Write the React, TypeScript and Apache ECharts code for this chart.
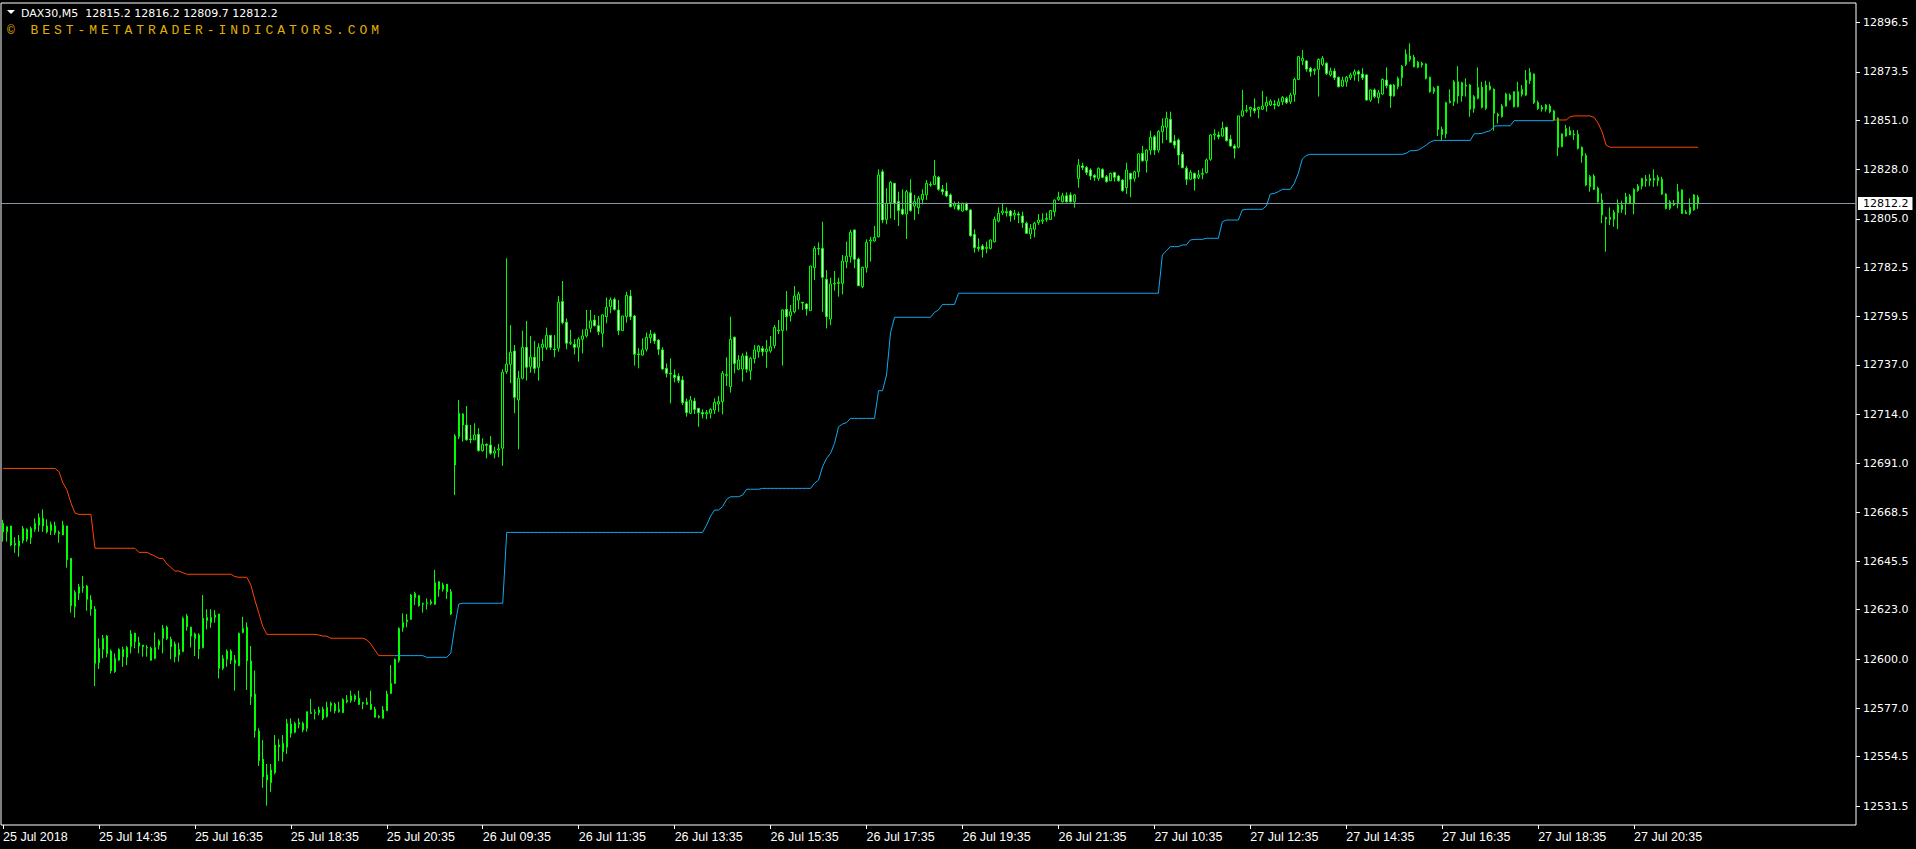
import React, { useEffect, useRef } from 'react';
import * as echarts from 'echarts';

// ---- Axis labels ----
const tickLabels = [
  '25 Jul 2018', '25 Jul 14:35', '25 Jul 16:35', '25 Jul 18:35', '25 Jul 20:35',
  '26 Jul 09:35', '26 Jul 11:35', '26 Jul 13:35', '26 Jul 15:35', '26 Jul 17:35',
  '26 Jul 19:35', '26 Jul 21:35', '27 Jul 10:35', '27 Jul 12:35', '27 Jul 14:35',
  '27 Jul 16:35', '27 Jul 18:35', '27 Jul 20:35',
];
const barsPerLabel = 24;
const priceLevels = [
  12531.5, 12554.5, 12577.0, 12600.0, 12623.0, 12645.5, 12668.5, 12691.0, 12714.0,
  12737.0, 12759.5, 12782.5, 12805.0, 12828.0, 12851.0, 12873.5, 12896.5,
];
const priceMin = 12522.7;
const priceMax = 12905.6;
const lastPrice = 12812.2;
const headerText = 'DAX30,M5  12815.2 12816.2 12809.7 12812.2';
const watermarkText = '\u00A9 BEST-METATRADER-INDICATORS.COM';

// ---- OHLC (M5 bars) ----
const opens = [
  12663.2, 12659.3, 12662.0, 12653.1, 12652.6, 12655.1, 12660.4, 12656.5, 12660.4, 12662.4,
  12665.5, 12662.0, 12659.8, 12662.0, 12658.9, 12657.8, 12662.0, 12646.9, 12624.4, 12630.6,
  12633.7, 12634.0, 12627.5, 12623.2, 12598.3, 12604.5, 12610.7, 12603.7, 12594.1, 12599.5,
  12604.5, 12600.8, 12605.8, 12612.0, 12607.6, 12606.5, 12605.4, 12605.0, 12600.3, 12606.5,
  12609.6, 12614.8, 12609.2, 12607.0, 12601.9, 12603.4, 12620.0, 12614.8, 12609.5, 12611.2,
  12605.3, 12617.9, 12619.4, 12619.4, 12621.0, 12595.7, 12599.9, 12603.7, 12599.5, 12596.9,
  12612.3, 12614.8, 12599.1, 12583.7, 12566.5, 12553.3, 12546.0, 12542.4, 12547.1, 12560.0,
  12560.7, 12558.9, 12569.7, 12565.9, 12569.7, 12570.0, 12567.7, 12575.0, 12574.7, 12575.0,
  12576.6, 12573.2, 12578.3, 12578.9, 12575.5, 12575.0, 12580.1, 12580.6, 12581.2, 12581.7,
  12579.7, 12578.9, 12578.9, 12576.6, 12573.2, 12572.4, 12575.9, 12584.0, 12588.7, 12599.2,
  12614.6, 12617.4, 12618.5, 12628.6, 12629.5, 12625.5, 12625.9, 12625.9, 12625.5, 12636.0,
  12632.5, 12634.8, 12631.4, 12690.4, 12703.6, 12714.2, 12709.0, 12702.5, 12702.1, 12704.7,
  12697.1, 12700.0, 12699.7, 12695.9, 12697.4, 12698.2, 12733.9, 12737.3, 12743.5, 12720.7,
  12730.8, 12745.2, 12736.2, 12740.6, 12735.9, 12745.2, 12745.2, 12750.8, 12744.4, 12744.8,
  12766.5, 12756.9, 12747.1, 12746.6, 12745.2, 12749.0, 12750.5, 12754.1, 12757.9, 12755.3,
  12751.7, 12759.5, 12764.2, 12767.6, 12762.6, 12753.0, 12759.5, 12769.1, 12759.8, 12742.1,
  12741.6, 12744.3, 12749.7, 12751.4, 12748.6, 12744.0, 12735.4, 12733.1, 12732.3, 12731.8,
  12730.0, 12719.9, 12714.5, 12720.2, 12716.8, 12714.8, 12714.2, 12714.5, 12716.0, 12718.8,
  12719.9, 12732.0, 12726.9, 12749.9, 12735.0, 12735.1, 12741.2, 12734.3, 12739.9, 12743.2,
  12744.7, 12743.2, 12743.5, 12746.0, 12752.8, 12753.0, 12762.9, 12760.0, 12761.8, 12767.2,
  12766.2, 12765.4, 12762.3, 12782.3, 12791.3, 12791.3, 12776.9, 12758.4, 12774.7, 12775.0,
  12775.0, 12785.1, 12787.4, 12799.9, 12786.3, 12773.5, 12782.3, 12794.7, 12794.7, 12796.7,
  12827.0, 12804.8, 12812.6, 12821.6, 12813.1, 12809.5, 12807.3, 12817.2, 12811.0, 12810.3,
  12814.1, 12816.2, 12821.1, 12821.1, 12824.4, 12818.8, 12818.0, 12816.2, 12811.0, 12811.5,
  12808.7, 12812.3, 12809.2, 12797.8, 12791.8, 12792.4, 12791.3, 12791.3, 12794.4, 12804.0,
  12807.9, 12808.4, 12808.7, 12806.8, 12807.3, 12806.4, 12803.0, 12798.0, 12800.2, 12803.3,
  12804.0, 12804.8, 12804.8, 12808.4, 12814.1, 12813.0, 12815.8, 12816.2, 12813.0, 12823.9,
  12829.7, 12829.0, 12827.8, 12825.3, 12823.9, 12828.1, 12824.7, 12822.8, 12826.6, 12825.0,
  12823.1, 12819.6, 12826.2, 12823.9, 12827.0, 12835.6, 12832.1, 12837.1, 12843.3, 12837.1,
  12845.7, 12847.7, 12851.4, 12841.3, 12841.8, 12835.1, 12828.6, 12823.5, 12826.2, 12824.4,
  12825.8, 12826.6, 12832.8, 12844.1, 12844.1, 12843.6, 12847.7, 12842.1, 12839.0, 12838.4,
  12853.0, 12855.3, 12856.1, 12856.5, 12856.1, 12856.1, 12857.6, 12858.1, 12858.5, 12857.8,
  12859.6, 12861.2, 12859.6, 12863.0, 12870.0, 12878.7, 12878.6, 12875.2, 12874.1, 12874.7,
  12877.0, 12877.5, 12872.1, 12873.9, 12871.0, 12866.9, 12868.9, 12870.8, 12872.1, 12873.6,
  12872.5, 12872.1, 12860.4, 12865.1, 12861.5, 12863.2, 12869.7, 12867.4, 12862.3, 12866.6,
  12870.8, 12877.0, 12879.3, 12880.3, 12875.6, 12877.5, 12877.2, 12871.0, 12864.3, 12866.9,
  12846.7, 12844.6, 12859.2, 12859.6, 12868.9, 12862.3, 12866.9, 12867.4, 12856.5, 12861.2,
  12866.3, 12856.5, 12866.9, 12865.4, 12853.7, 12852.6, 12857.6, 12862.7, 12864.3, 12857.3,
  12863.0, 12862.7, 12869.4, 12872.5, 12859.2, 12857.0, 12856.2, 12857.6, 12855.3, 12851.9,
  12838.7, 12843.6, 12846.1, 12844.4, 12844.4, 12838.4, 12834.5, 12820.0, 12825.0, 12819.3,
  12813.8, 12805.6, 12804.8, 12804.8, 12807.9, 12811.5, 12812.3, 12815.7, 12812.3, 12818.2,
  12820.3, 12823.5, 12822.8, 12823.9, 12822.8, 12823.5, 12816.6, 12809.9, 12812.3, 12812.3,
  12818.5, 12808.1, 12807.6, 12809.2, 12815.2,
];
const closes = [
  12659.3, 12661.7, 12653.1, 12653.9, 12655.0, 12660.9, 12655.8, 12660.9, 12663.2, 12666.0,
  12662.0, 12659.3, 12662.7, 12658.9, 12658.5, 12662.4, 12646.4, 12624.9, 12631.1, 12633.7,
  12633.2, 12627.8, 12623.3, 12598.0, 12605.0, 12609.6, 12602.6, 12594.6, 12600.3, 12604.5,
  12601.1, 12605.4, 12611.7, 12608.1, 12606.1, 12605.8, 12605.1, 12599.5, 12605.4, 12608.4,
  12614.3, 12609.6, 12605.8, 12601.1, 12604.5, 12619.0, 12615.1, 12610.7, 12611.7, 12604.7,
  12619.0, 12619.4, 12617.1, 12620.5, 12595.7, 12600.3, 12603.7, 12599.5, 12598.0, 12612.0,
  12614.3, 12599.2, 12582.5, 12566.6, 12552.7, 12545.2, 12543.7, 12548.3, 12560.0, 12559.2,
  12556.9, 12570.0, 12565.4, 12570.0, 12570.4, 12567.0, 12575.5, 12574.7, 12575.2, 12576.3,
  12572.4, 12577.5, 12579.4, 12575.9, 12576.6, 12581.2, 12580.9, 12582.8, 12582.9, 12578.9,
  12579.4, 12579.8, 12576.6, 12572.9, 12572.9, 12576.3, 12583.7, 12588.7, 12599.9, 12614.3,
  12617.1, 12618.2, 12629.8, 12630.6, 12624.9, 12625.9, 12626.3, 12626.7, 12635.6, 12632.5,
  12634.5, 12631.4, 12621.0, 12703.9, 12714.5, 12709.0, 12702.1, 12702.2, 12704.4, 12697.1,
  12700.0, 12699.6, 12695.9, 12696.9, 12697.9, 12733.6, 12737.4, 12742.9, 12721.9, 12730.8,
  12745.2, 12735.9, 12740.6, 12735.4, 12745.2, 12746.6, 12750.8, 12745.2, 12744.1, 12766.2,
  12756.7, 12747.1, 12747.5, 12745.2, 12749.0, 12750.5, 12753.6, 12757.5, 12755.3, 12752.5,
  12760.3, 12763.9, 12767.3, 12762.9, 12753.0, 12759.8, 12769.4, 12759.5, 12742.0, 12741.8,
  12744.0, 12749.9, 12751.3, 12748.2, 12744.3, 12735.1, 12733.1, 12732.8, 12731.2, 12729.7,
  12719.4, 12714.8, 12720.7, 12716.3, 12714.8, 12714.2, 12714.8, 12716.3, 12719.6, 12719.9,
  12733.1, 12732.6, 12748.9, 12737.7, 12739.3, 12741.2, 12735.0, 12740.1, 12744.0, 12745.8,
  12743.2, 12744.4, 12745.5, 12754.5, 12753.3, 12762.6, 12759.5, 12761.8, 12769.1, 12770.0,
  12765.8, 12763.1, 12783.1, 12791.3, 12791.0, 12777.8, 12759.5, 12774.7, 12775.0, 12775.5,
  12785.4, 12787.7, 12798.8, 12786.2, 12773.9, 12782.5, 12794.1, 12795.2, 12796.4, 12825.5,
  12804.5, 12812.3, 12822.1, 12812.3, 12808.9, 12807.3, 12817.7, 12808.9, 12813.1, 12814.6,
  12816.5, 12821.6, 12820.8, 12825.0, 12818.8, 12817.7, 12815.7, 12810.7, 12812.0, 12809.5,
  12812.3, 12809.2, 12797.2, 12791.6, 12791.3, 12790.8, 12791.8, 12795.2, 12804.8, 12807.6,
  12808.7, 12807.9, 12806.4, 12807.6, 12806.8, 12803.3, 12798.3, 12800.6, 12803.0, 12804.5,
  12804.5, 12805.3, 12808.9, 12813.8, 12815.1, 12815.8, 12813.0, 12813.0, 12816.2, 12830.1,
  12829.0, 12826.6, 12825.0, 12824.4, 12828.6, 12824.4, 12822.4, 12826.2, 12824.4, 12822.8,
  12818.2, 12827.8, 12823.5, 12827.0, 12835.3, 12832.1, 12837.1, 12843.0, 12837.1, 12845.7,
  12848.3, 12851.9, 12840.7, 12839.4, 12834.8, 12828.9, 12823.5, 12826.7, 12823.9, 12825.5,
  12826.2, 12832.5, 12844.1, 12844.6, 12843.3, 12847.2, 12841.5, 12839.0, 12837.9, 12853.0,
  12855.4, 12855.7, 12857.0, 12855.4, 12857.0, 12857.6, 12859.3, 12859.9, 12858.1, 12859.6,
  12861.6, 12859.2, 12862.7, 12870.0, 12880.6, 12879.8, 12874.8, 12873.6, 12874.7, 12879.3,
  12879.8, 12872.8, 12873.9, 12870.8, 12866.6, 12869.7, 12871.0, 12872.1, 12873.6, 12872.5,
  12870.8, 12860.4, 12865.1, 12862.0, 12863.8, 12870.0, 12867.1, 12862.3, 12867.4, 12870.5,
  12876.2, 12881.8, 12880.9, 12875.9, 12878.0, 12876.7, 12870.5, 12864.3, 12865.8, 12846.7,
  12844.4, 12859.2, 12859.9, 12868.9, 12862.3, 12868.5, 12867.4, 12856.1, 12862.0, 12866.3,
  12857.0, 12867.4, 12865.4, 12854.2, 12853.0, 12857.6, 12863.2, 12860.7, 12857.3, 12864.3,
  12865.4, 12869.7, 12873.3, 12859.2, 12856.5, 12856.2, 12858.1, 12855.0, 12851.1, 12838.4,
  12844.6, 12847.2, 12844.1, 12844.1, 12837.9, 12834.5, 12820.8, 12824.7, 12818.8, 12813.0,
  12806.8, 12805.0, 12805.8, 12808.1, 12811.5, 12809.5, 12815.4, 12812.3, 12818.8, 12820.3,
  12823.9, 12822.8, 12823.9, 12823.1, 12824.4, 12816.6, 12809.9, 12813.0, 12811.5, 12817.7,
  12807.6, 12807.6, 12810.4, 12816.2, 12812.2,
];
const lows = [
  12654.7, 12654.7, 12652.6, 12649.5, 12647.7, 12653.9, 12654.7, 12653.6, 12659.3, 12659.3,
  12659.3, 12658.5, 12657.8, 12657.8, 12654.2, 12657.8, 12642.6, 12621.6, 12619.3, 12627.5,
  12630.9, 12622.5, 12620.2, 12587.4, 12595.4, 12600.3, 12600.8, 12593.3, 12593.6, 12599.2,
  12596.4, 12597.2, 12602.6, 12605.0, 12602.6, 12601.1, 12601.1, 12599.2, 12599.9, 12604.5,
  12602.6, 12608.9, 12599.9, 12598.5, 12598.8, 12603.4, 12613.2, 12605.4, 12601.4, 12600.0,
  12605.0, 12613.8, 12614.6, 12616.9, 12591.0, 12594.9, 12596.4, 12597.7, 12585.3, 12596.7,
  12612.0, 12585.6, 12578.6, 12563.4, 12550.2, 12540.1, 12531.7, 12538.2, 12546.3, 12552.5,
  12552.2, 12555.8, 12563.4, 12565.4, 12567.7, 12565.9, 12566.2, 12574.7, 12571.9, 12573.8,
  12571.6, 12572.7, 12575.5, 12574.7, 12575.0, 12575.0, 12579.4, 12579.7, 12580.1, 12578.6,
  12576.6, 12578.6, 12576.3, 12572.9, 12572.4, 12572.4, 12575.9, 12583.7, 12588.4, 12598.3,
  12612.7, 12614.8, 12618.2, 12625.2, 12624.4, 12621.6, 12623.1, 12625.2, 12625.2, 12629.0,
  12631.4, 12628.0, 12620.5, 12676.4, 12702.4, 12701.3, 12701.8, 12700.5, 12702.1, 12696.6,
  12696.6, 12693.5, 12695.1, 12693.5, 12694.0, 12690.0, 12732.8, 12728.5, 12714.5, 12697.7,
  12730.3, 12729.7, 12733.4, 12733.1, 12729.7, 12738.8, 12744.0, 12744.0, 12740.6, 12743.2,
  12755.9, 12744.3, 12746.3, 12741.9, 12738.5, 12742.4, 12749.7, 12752.1, 12754.9, 12750.9,
  12745.2, 12756.4, 12761.1, 12762.3, 12750.9, 12753.0, 12756.7, 12757.9, 12736.7, 12735.4,
  12741.3, 12743.2, 12747.1, 12746.8, 12741.6, 12734.7, 12731.2, 12719.1, 12728.9, 12728.6,
  12718.3, 12712.9, 12714.1, 12714.1, 12708.2, 12712.1, 12711.7, 12712.1, 12714.2, 12715.2,
  12714.0, 12727.2, 12724.1, 12733.1, 12734.6, 12729.2, 12733.4, 12730.0, 12737.7, 12740.4,
  12741.2, 12735.7, 12742.7, 12744.7, 12751.4, 12736.7, 12753.0, 12757.2, 12761.0, 12762.9,
  12762.6, 12760.0, 12762.3, 12776.6, 12788.2, 12761.8, 12754.0, 12755.6, 12771.6, 12768.8,
  12769.9, 12782.0, 12784.6, 12782.0, 12773.9, 12772.7, 12780.0, 12785.1, 12794.4, 12796.4,
  12803.0, 12802.5, 12805.3, 12804.5, 12801.7, 12806.8, 12795.7, 12808.4, 12804.5, 12807.3,
  12811.8, 12813.8, 12820.0, 12820.8, 12818.2, 12816.2, 12815.1, 12810.4, 12809.5, 12808.9,
  12808.4, 12808.7, 12796.7, 12789.3, 12789.8, 12787.0, 12789.0, 12790.8, 12794.1, 12803.4,
  12806.8, 12806.1, 12803.7, 12804.5, 12803.0, 12800.9, 12798.0, 12795.7, 12796.4, 12802.2,
  12802.6, 12803.7, 12804.5, 12806.1, 12813.4, 12812.7, 12812.7, 12812.7, 12810.3, 12819.6,
  12827.8, 12825.5, 12823.1, 12822.8, 12822.8, 12823.9, 12821.9, 12822.8, 12822.4, 12822.4,
  12817.7, 12816.6, 12815.1, 12822.4, 12824.4, 12831.7, 12826.6, 12834.8, 12834.8, 12835.9,
  12840.2, 12841.8, 12840.7, 12837.9, 12830.1, 12828.6, 12820.8, 12823.1, 12818.2, 12823.5,
  12823.5, 12826.2, 12832.1, 12841.8, 12842.1, 12843.3, 12841.0, 12838.7, 12833.2, 12837.9,
  12852.6, 12854.5, 12852.6, 12854.2, 12851.9, 12855.8, 12855.0, 12857.6, 12856.1, 12857.3,
  12858.1, 12858.5, 12858.5, 12859.6, 12869.7, 12876.7, 12873.6, 12871.3, 12872.1, 12862.0,
  12876.2, 12872.1, 12871.3, 12869.7, 12866.3, 12866.6, 12866.6, 12869.7, 12869.4, 12869.0,
  12869.7, 12860.1, 12859.6, 12861.2, 12858.8, 12862.7, 12865.8, 12856.8, 12862.0, 12865.4,
  12866.9, 12876.2, 12878.3, 12875.6, 12875.2, 12875.6, 12870.0, 12863.8, 12863.2, 12843.6,
  12841.8, 12842.6, 12858.8, 12857.6, 12858.8, 12859.6, 12862.0, 12852.6, 12854.5, 12860.7,
  12856.5, 12855.8, 12864.8, 12846.1, 12849.5, 12852.3, 12857.3, 12860.1, 12857.0, 12857.0,
  12862.0, 12862.3, 12867.9, 12858.5, 12855.8, 12855.0, 12855.0, 12854.2, 12850.8, 12834.3,
  12838.4, 12843.3, 12844.1, 12841.8, 12837.4, 12831.2, 12820.3, 12817.7, 12818.5, 12812.6,
  12803.0, 12789.8, 12802.2, 12801.4, 12800.3, 12807.9, 12806.8, 12811.8, 12807.2, 12817.7,
  12818.8, 12820.0, 12820.3, 12820.0, 12820.3, 12816.2, 12809.5, 12809.2, 12811.0, 12809.9,
  12807.3, 12807.3, 12806.8, 12808.9, 12809.7,
];
const highs = [
  12664.8, 12661.7, 12662.0, 12656.7, 12657.8, 12662.0, 12660.9, 12661.7, 12665.5, 12667.9,
  12669.7, 12665.1, 12664.0, 12664.0, 12659.8, 12664.4, 12662.0, 12646.9, 12632.1, 12635.0,
  12638.7, 12634.5, 12629.8, 12624.7, 12609.6, 12611.2, 12611.2, 12604.5, 12602.6, 12605.0,
  12605.8, 12606.1, 12613.5, 12612.3, 12610.4, 12606.5, 12606.5, 12605.8, 12612.4, 12609.2,
  12615.9, 12615.5, 12610.4, 12608.1, 12607.6, 12619.7, 12621.0, 12615.1, 12612.3, 12612.0,
  12629.8, 12623.2, 12623.2, 12622.8, 12621.0, 12601.9, 12604.5, 12604.5, 12601.9, 12612.3,
  12619.7, 12617.1, 12606.1, 12594.6, 12567.7, 12562.3, 12551.1, 12551.1, 12564.6, 12562.7,
  12564.6, 12572.1, 12572.4, 12570.8, 12572.4, 12570.8, 12575.5, 12581.4, 12576.6, 12577.8,
  12577.8, 12580.1, 12580.1, 12579.7, 12580.1, 12581.7, 12583.2, 12585.3, 12583.6, 12585.3,
  12580.1, 12582.0, 12585.3, 12577.8, 12573.9, 12578.1, 12585.3, 12597.2, 12600.3, 12614.8,
  12621.3, 12621.0, 12630.3, 12631.4, 12629.8, 12626.3, 12628.3, 12627.8, 12641.5, 12636.3,
  12635.6, 12634.8, 12632.6, 12704.8, 12720.7, 12714.5, 12717.9, 12709.0, 12709.8, 12707.5,
  12702.8, 12700.5, 12703.9, 12698.9, 12700.2, 12735.0, 12786.7, 12755.6, 12746.3, 12734.2,
  12753.0, 12757.5, 12750.5, 12748.2, 12747.1, 12749.0, 12754.4, 12750.9, 12750.9, 12769.1,
  12776.1, 12758.7, 12753.3, 12749.0, 12749.9, 12753.6, 12762.6, 12762.6, 12760.3, 12759.8,
  12760.7, 12768.4, 12768.4, 12768.4, 12767.3, 12759.8, 12771.1, 12771.9, 12760.3, 12744.8,
  12749.4, 12752.1, 12753.3, 12752.1, 12749.0, 12745.2, 12737.7, 12740.1, 12734.9, 12733.1,
  12731.8, 12721.4, 12722.5, 12721.7, 12716.8, 12716.3, 12716.0, 12716.8, 12721.4, 12722.5,
  12734.2, 12740.5, 12759.5, 12750.2, 12741.6, 12742.4, 12743.2, 12740.8, 12746.3, 12746.3,
  12745.8, 12748.6, 12750.5, 12755.6, 12757.9, 12762.9, 12771.4, 12764.9, 12773.8, 12771.1,
  12766.2, 12765.7, 12783.1, 12792.4, 12794.1, 12803.7, 12781.2, 12777.6, 12780.8, 12777.6,
  12788.2, 12794.4, 12799.9, 12799.9, 12787.0, 12782.8, 12795.5, 12796.7, 12801.7, 12828.1,
  12828.1, 12819.3, 12822.7, 12821.6, 12817.7, 12818.8, 12818.5, 12823.5, 12816.2, 12815.7,
  12818.8, 12823.1, 12822.4, 12832.5, 12825.0, 12820.8, 12821.9, 12816.9, 12813.1, 12813.1,
  12812.6, 12812.6, 12809.6, 12800.2, 12796.0, 12793.3, 12794.4, 12795.5, 12806.1, 12810.4,
  12812.0, 12810.4, 12809.2, 12809.2, 12808.4, 12808.4, 12803.7, 12802.6, 12803.7, 12807.3,
  12807.6, 12807.9, 12809.2, 12814.1, 12817.7, 12817.2, 12817.4, 12817.4, 12816.6, 12832.9,
  12831.2, 12829.7, 12828.6, 12825.9, 12829.0, 12828.6, 12825.5, 12826.6, 12827.0, 12825.5,
  12823.5, 12831.2, 12826.6, 12827.5, 12835.6, 12839.0, 12837.4, 12846.1, 12844.1, 12846.4,
  12851.9, 12855.0, 12855.0, 12844.1, 12842.5, 12836.3, 12829.7, 12827.8, 12826.6, 12827.8,
  12828.6, 12833.2, 12844.6, 12846.7, 12845.7, 12850.3, 12848.0, 12844.1, 12839.8, 12853.0,
  12865.1, 12858.1, 12857.3, 12861.2, 12857.3, 12864.6, 12862.0, 12860.7, 12860.4, 12861.2,
  12862.3, 12862.0, 12863.8, 12870.8, 12880.9, 12883.7, 12879.0, 12875.9, 12875.2, 12879.8,
  12880.9, 12878.0, 12875.5, 12875.2, 12871.3, 12871.3, 12871.6, 12873.1, 12874.7, 12874.4,
  12875.2, 12872.4, 12865.4, 12865.8, 12865.1, 12870.5, 12875.6, 12867.9, 12867.9, 12871.3,
  12876.7, 12884.0, 12886.8, 12881.4, 12878.6, 12878.3, 12877.5, 12871.3, 12866.6, 12866.9,
  12848.0, 12859.6, 12865.4, 12869.7, 12876.2, 12868.9, 12870.5, 12867.9, 12862.7, 12875.6,
  12868.9, 12869.4, 12868.9, 12865.8, 12854.5, 12858.5, 12863.8, 12863.5, 12864.3, 12868.9,
  12867.4, 12874.4, 12875.2, 12872.8, 12860.1, 12858.1, 12858.5, 12858.5, 12855.8, 12852.3,
  12844.9, 12848.8, 12848.0, 12846.4, 12846.4, 12838.7, 12835.6, 12825.5, 12825.9, 12820.0,
  12816.9, 12806.1, 12810.4, 12809.2, 12814.1, 12813.5, 12817.2, 12816.6, 12819.3, 12821.3,
  12824.2, 12825.5, 12825.9, 12828.1, 12825.5, 12824.7, 12817.0, 12813.8, 12813.8, 12821.3,
  12818.8, 12809.2, 12814.6, 12816.6, 12816.2,
];

// ---- Trailing-stop indicator, stored as [first bar, level] runs ----
const stopDownRunsA = [
  [0, 12688.8], [14, 12687.3], [15, 12682.0], [16, 12678.7], [17, 12672.7], [18, 12668.0],
  [19, 12667.4], [23, 12651.6], [34, 12649.7], [37, 12648.8], [38, 12648.0], [39, 12646.9],
  [41, 12644.3], [42, 12642.7], [43, 12641.0], [45, 12640.2], [46, 12639.5], [58, 12638.4],
  [59, 12638.1], [62, 12634.5], [63, 12627.5], [64, 12621.3], [65, 12615.1], [66, 12611.5],
  [79, 12611.2], [80, 12610.7], [82, 12609.7], [91, 12608.9], [92, 12607.0], [93, 12604.2],
  [94, 12601.6],
];
const stopDownEndA = 98;
const stopUpRuns = [
  [98, 12601.6], [106, 12600.8], [112, 12602.7], [113, 12615.1], [114, 12625.6], [115, 12626.0],
  [126, 12659.0], [176, 12662.4], [177, 12666.6], [178, 12669.4], [180, 12671.0], [181, 12674.4],
  [182, 12675.6], [185, 12676.4], [186, 12679.1], [190, 12679.5], [203, 12681.9], [204, 12683.4],
  [205, 12689.6], [206, 12693.5], [207, 12695.8], [208, 12700.5], [209, 12708.2], [210, 12709.5],
  [211, 12710.1], [212, 12712.1], [219, 12725.0], [221, 12732.3], [222, 12751.9], [223, 12759.2],
  [233, 12761.5], [234, 12762.6], [235, 12765.2], [239, 12770.4], [290, 12788.2], [291, 12790.2],
  [292, 12792.1], [295, 12792.9], [297, 12795.2], [298, 12795.5], [301, 12796.0], [305, 12803.7],
  [306, 12804.5], [310, 12809.2], [311, 12809.5], [316, 12811.0], [317, 12816.6], [318, 12816.9],
  [319, 12817.7], [320, 12818.8], [323, 12821.6], [324, 12826.3], [325, 12832.9], [326, 12834.6],
  [327, 12835.1], [351, 12835.6], [352, 12836.8], [354, 12837.1], [355, 12838.2], [356, 12839.4],
  [357, 12840.8], [358, 12841.6], [368, 12844.7], [370, 12844.9], [371, 12845.6], [372, 12846.1],
  [373, 12848.2], [374, 12848.4], [378, 12850.8],
];
const stopUpEnd = 388;
const stopDownRunsB = [
  [388, 12851.1], [392, 12852.6], [393, 12853.0], [398, 12852.3], [399, 12849.6],
  [400, 12845.6], [401, 12839.4], [402, 12838.4],
];
const stopDownEndB = 424;

const SLOTS = 464; // visible bar slots (chart shift leaves empty space on the right)

function runsToSeries(groups: Array<{ runs: number[][]; end: number }>, total: number) {
  const out: (number | null)[] = new Array(total).fill(null);
  groups.forEach(({ runs, end }) => {
    for (let k = 0; k < runs.length; k++) {
      const from = runs[k][0];
      const to = k + 1 < runs.length ? runs[k + 1][0] - 1 : end;
      for (let i = from; i <= to; i++) out[i] = runs[k][1];
    }
  });
  return out;
}

const isLabelIndex = (i: number) =>
  i % barsPerLabel === 0 && i / barsPerLabel < tickLabels.length;

export default function App() {
  const ref = useRef<HTMLDivElement>(null);

  useEffect(() => {
    if (!ref.current) return;
    const chart = echarts.init(ref.current, null, { renderer: 'svg', width: 1916, height: 849 });

    const categories = Array.from({ length: SLOTS }, (_, i) => String(i));
    const candles = opens.map((o, i) => [o, closes[i], lows[i], highs[i]]);
    const downLine = runsToSeries(
      [
        { runs: stopDownRunsA, end: stopDownEndA },
        { runs: stopDownRunsB, end: stopDownEndB },
      ],
      opens.length,
    );
    const upLine = runsToSeries([{ runs: stopUpRuns, end: stopUpEnd }], opens.length);

    chart.setOption({
      animation: false,
      backgroundColor: '#000000',
      grid: {
        left: 1,
        top: 3,
        width: 1855,
        height: 822,
        show: true,
        borderColor: '#ffffff',
        borderWidth: 1,
        backgroundColor: 'transparent',
      },
      xAxis: {
        type: 'category',
        data: categories,
        boundaryGap: true,
        axisLine: { show: false },
        axisTick: {
          show: true,
          alignWithLabel: true,
          interval: (i: number) => isLabelIndex(i),
          length: 4,
          lineStyle: { color: '#ffffff', width: 1 },
        },
        axisLabel: {
          interval: (i: number) => isLabelIndex(i),
          formatter: (_v: string, i: number) => tickLabels[i / barsPerLabel] ?? '',
          color: '#ffffff',
          fontSize: 12.5,
          fontFamily: '"Liberation Sans", Arial, sans-serif',
          align: 'left',
          margin: 5,
        },
        splitLine: { show: false },
      },
      yAxis: {
        type: 'value',
        position: 'right',
        min: priceMin,
        max: priceMax,
        scale: true,
        axisLine: { show: false },
        axisTick: {
          show: true,
          customValues: priceLevels,
          length: 4,
          lineStyle: { color: '#ffffff', width: 1 },
        },
        axisLabel: {
          customValues: priceLevels,
          formatter: (v: number) => v.toFixed(1),
          color: '#ffffff',
          fontSize: 11,
          fontFamily: '"DejaVu Sans", sans-serif',
          margin: 7,
        },
        splitLine: { show: false },
      },
      graphic: [
        {
          type: 'polygon',
          shape: { points: [[7, 10], [15, 10], [11, 14]] },
          style: { fill: '#ffffff' },
          silent: true,
        },
        {
          type: 'text',
          x: 21,
          y: 13,
          style: {
            text: headerText,
            fill: '#ffffff',
            fontSize: 11,
            fontFamily: '"DejaVu Sans", sans-serif',
            verticalAlign: 'middle',
          },
          silent: true,
        },
      ],
      series: [
        {
          type: 'candlestick',
          data: candles,
          barWidth: 2,
          clip: false,
          silent: true,
          itemStyle: {
            color: '#000000',
            color0: '#ffffff',
            borderColor: '#00ff00',
            borderColor0: '#00ff00',
            borderWidth: 1,
          },
          markLine: {
            silent: true,
            symbol: ['none', 'none'],
            animation: false,
            lineStyle: { color: '#8796a5', type: 'solid', width: 1 },
            label: {
              show: true,
              position: 'end',
              distance: 2,
              formatter: () => lastPrice.toFixed(1),
              color: '#000000',
              backgroundColor: '#ffffff',
              fontSize: 11,
              fontFamily: '"DejaVu Sans", sans-serif',
              padding: [1, 4, 0, 5],
              lineHeight: 12,
            },
            data: [{ yAxis: lastPrice }],
          },
          z: 2,
        },
        {
          type: 'line',
          data: downLine,
          symbol: 'none',
          showSymbol: false,
          connectNulls: false,
          silent: true,
          lineStyle: { color: '#ff4500', width: 1 },
          z: 3,
        },
        {
          type: 'line',
          data: upLine,
          symbol: 'none',
          showSymbol: false,
          connectNulls: false,
          silent: true,
          lineStyle: { color: '#10aaf0', width: 1 },
          z: 3,
        },
      ],
    });

    return () => chart.dispose();
  }, []);

  return (
    <div
      style={{
        position: 'fixed',
        left: 0,
        top: 0,
        width: 1916,
        height: 849,
        background: '#000000',
        overflow: 'hidden',
      }}
    >
      <div ref={ref} style={{ width: 1916, height: 849 }} />
      <div
        style={{
          position: 'absolute',
          left: 7,
          top: 23,
          color: '#E0B000',
          fontFamily: '"Liberation Mono", "DejaVu Sans Mono", monospace',
          fontSize: 13,
          lineHeight: '15px',
          letterSpacing: '3.95px',
          whiteSpace: 'pre',
          pointerEvents: 'none',
        }}
      >
        {watermarkText}
      </div>
    </div>
  );
}
